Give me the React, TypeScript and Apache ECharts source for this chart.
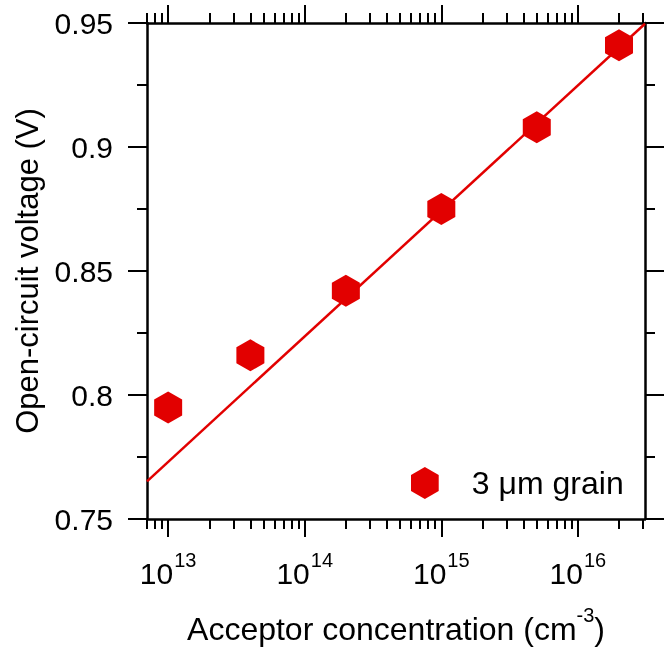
import React, { useEffect, useRef } from 'react';
import * as echarts from 'echarts';

// Data
const concentrations = [1e13, 4e13, 2e14, 1e15, 5e15, 2e16];
const vocValues = [0.795, 0.816, 0.842, 0.875, 0.908, 0.941];
const fitConcentrations = [7e12, 3.1e16];
const fitVoc = [0.7652, 0.9497];
const seriesName = '3 \u03bcm grain';

const majorTicksX = [1e13, 1e14, 1e15, 1e16];
const minorTicksX = [
  7e12, 8e12, 9e12,
  2e13, 3e13, 4e13, 5e13, 6e13, 7e13, 8e13, 9e13,
  2e14, 3e14, 4e14, 5e14, 6e14, 7e14, 8e14, 9e14,
  2e15, 3e15, 4e15, 5e15, 6e15, 7e15, 8e15, 9e15,
  2e16, 3e16,
];
const xMin = 7e12;
const xMax = 3.1e16;
const yMin = 0.75;
const yMax = 0.95;
const yStep = 0.05;

const HEX = 'path://M0,-1 L0.866,-0.5 L0.866,0.5 L0,1 L-0.866,0.5 L-0.866,-0.5 Z';
const RED = '#e20000';
const FONT = 'Liberation Sans, Arial, sans-serif';

export default function App() {
  const ref = useRef<HTMLDivElement>(null);
  useEffect(() => {
    if (!ref.current) return;
    const chart = echarts.init(ref.current, undefined, { renderer: 'svg' });
    const axisLine = { show: true, lineStyle: { color: '#000', width: 2.5 } };
    const tickStyle = { color: '#000', width: 2 };
    const baseX = { type: 'log', logBase: 10, min: xMin, max: xMax, splitLine: { show: false } };
    const scatterData = concentrations.map((c, i) => [c, vocValues[i]]);
    const fitData = fitConcentrations.map((c, i) => [c, fitVoc[i]]);
    chart.setOption({
      animation: false,
      textStyle: { fontFamily: FONT },
      grid: { left: 147, right: 22, top: 23, bottom: 131, containLabel: false },
      legend: {
        data: [{ name: seriesName, icon: HEX }],
        left: 406,
        top: 462,
        itemWidth: 28,
        itemHeight: 32,
        textStyle: { fontSize: 32, color: '#000', fontFamily: FONT, padding: [0, 0, 0, 28] },
        selectedMode: false,
      },
      xAxis: [
        {
          ...baseX,
          position: 'bottom',
          axisLine,
          axisTick: { show: true, inside: false, length: 18, lineStyle: tickStyle, customValues: majorTicksX },
          axisLabel: {
            show: true,
            margin: 31,
            customValues: majorTicksX,
            formatter: (v: number) => `{b|10}{s|${Math.round(Math.log10(v))}}`,
            rich: {
              b: { fontSize: 30, color: '#000', fontFamily: FONT, lineHeight: 38, verticalAlign: 'bottom' },
              s: { fontSize: 20, color: '#000', fontFamily: FONT, lineHeight: 38, verticalAlign: 'top', padding: [0, 0, 0, 1] },
            },
          },
          name: '{a|Acceptor concentration (cm}{s|-3}{a|)}',
          nameLocation: 'middle',
          nameGap: 86,
          nameTextStyle: {
            rich: {
              a: { fontSize: 32, color: '#000', fontFamily: FONT, lineHeight: 40, verticalAlign: 'bottom' },
              s: { fontSize: 20, color: '#000', fontFamily: FONT, lineHeight: 40, verticalAlign: 'top' },
            },
          },
        },
        {
          ...baseX,
          position: 'bottom',
          axisLine: { show: false },
          axisTick: { show: true, inside: false, length: 10, lineStyle: tickStyle, customValues: minorTicksX },
          axisLabel: { show: false },
        },
        {
          ...baseX,
          position: 'top',
          axisLine,
          axisTick: { show: true, inside: false, length: 18, lineStyle: tickStyle, customValues: majorTicksX },
          axisLabel: { show: false },
        },
        {
          ...baseX,
          position: 'top',
          axisLine: { show: false },
          axisTick: { show: true, inside: false, length: 10, lineStyle: tickStyle, customValues: minorTicksX },
          axisLabel: { show: false },
        },
      ],
      yAxis: [
        {
          type: 'value',
          position: 'left',
          min: yMin,
          max: yMax,
          interval: yStep,
          axisLine,
          axisTick: { show: true, inside: false, length: 19, lineStyle: tickStyle },
          minorTick: { show: true, splitNumber: 2, length: 10, lineStyle: tickStyle },
          splitLine: { show: false },
          axisLabel: { fontSize: 30, color: '#000', fontFamily: FONT, margin: 34 },
          name: 'Open-circuit voltage (V)',
          nameLocation: 'middle',
          nameGap: 104,
          nameTextStyle: { fontSize: 31, color: '#000', fontFamily: FONT },
        },
        {
          type: 'value',
          position: 'right',
          min: yMin,
          max: yMax,
          interval: yStep,
          axisLine,
          axisTick: { show: true, inside: false, length: 19, lineStyle: tickStyle },
          minorTick: { show: true, splitNumber: 2, length: 10, lineStyle: tickStyle },
          splitLine: { show: false },
          axisLabel: { show: false },
        },
      ],
      series: [
        {
          name: 'fit',
          type: 'line',
          xAxisIndex: 0,
          yAxisIndex: 0,
          data: fitData,
          showSymbol: false,
          symbol: 'none',
          lineStyle: { color: RED, width: 2.5 },
          z: 2,
        },
        {
          name: seriesName,
          type: 'scatter',
          xAxisIndex: 0,
          yAxisIndex: 0,
          data: scatterData,
          symbol: HEX,
          symbolSize: [28, 32],
          itemStyle: { color: RED, opacity: 1 },
          z: 3,
        },
      ],
    });
    return () => chart.dispose();
  }, []);
  return <div ref={ref} style={{ position: 'fixed', left: 0, top: 0, width: 667, height: 650 }} />;
}
